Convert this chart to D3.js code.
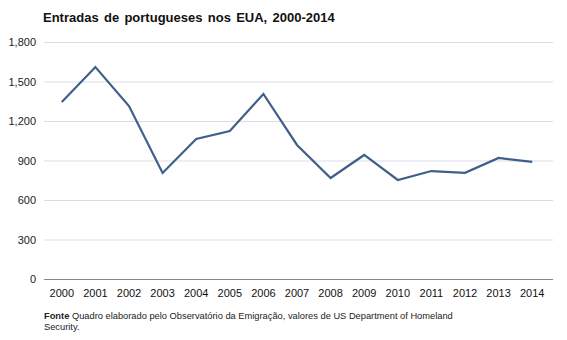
<!DOCTYPE html>
<html><head><meta charset="utf-8">
<script src="https://cdn.jsdelivr.net/npm/d3@7"></script>
<style>body{margin:0;background:#fff;}svg{display:block;font-family:Arial,"Liberation Sans",sans-serif;}</style>
</head><body>
<svg id="c" width="567" height="340"></svg>
<script>
const years = ["2000","2001","2002","2003","2004","2005","2006","2007","2008","2009","2010","2011","2012","2013","2014"];
const entries = [1344,1610,1314,805,1063,1124,1405,1018,767,942,752,820,806,919,889];
const yTicks = [0,300,600,900,1200,1500,1800];

const svg = d3.select("#c");
const x = d3.scaleBand().domain(years).range([45,549]);
const y = d3.scaleLinear().domain([0,1800]).range([279,42]);

svg.append("text").attr("x",43).attr("y",22).attr("font-size",13).attr("font-weight","bold")
  .attr("fill","#111").style("word-spacing","1.7px").text("Entradas de portugueses nos EUA, 2000-2014");

const gy = svg.append("g").attr("transform","translate(44,0)")
  .call(d3.axisLeft(y).tickValues(yTicks).tickSize(-509).tickFormat(d3.format(",")));
gy.select(".domain").remove();
gy.selectAll(".tick line").attr("stroke","#d9dde3").attr("stroke-width",1);
gy.selectAll(".tick text").attr("x",-8).attr("font-size",11).attr("fill","#222").attr("font-family","Arial, 'Liberation Sans', sans-serif");
gy.selectAll(".tick").filter(d=>d===0).select("line").attr("stroke","#888");

const gx = svg.append("g").attr("transform","translate(0,279)")
  .call(d3.axisBottom(x).tickSize(0));
gx.select(".domain").remove();
gx.selectAll(".tick text").attr("dy",0).attr("y",18).attr("font-size",11).attr("fill","#111").attr("font-family","Arial, 'Liberation Sans', sans-serif");

const line = d3.line().x((d,i)=>x(years[i])+x.bandwidth()/2).y(d=>y(d));
svg.append("path").datum(entries).attr("d",line).attr("fill","none")
  .attr("stroke","#3f5f8a").attr("stroke-width",2.2).attr("stroke-linejoin","miter");

const f = svg.append("text").attr("x",44).attr("y",319).attr("font-size",9.3).attr("fill","#222");
f.append("tspan").attr("font-weight","bold").text("Fonte");
f.append("tspan").text(" Quadro elaborado pelo Observatório da Emigração, valores de US Department of Homeland");
svg.append("text").attr("x",44).attr("y",330).attr("font-size",9.3).attr("fill","#222").text("Security.");
</script>
</body></html>
